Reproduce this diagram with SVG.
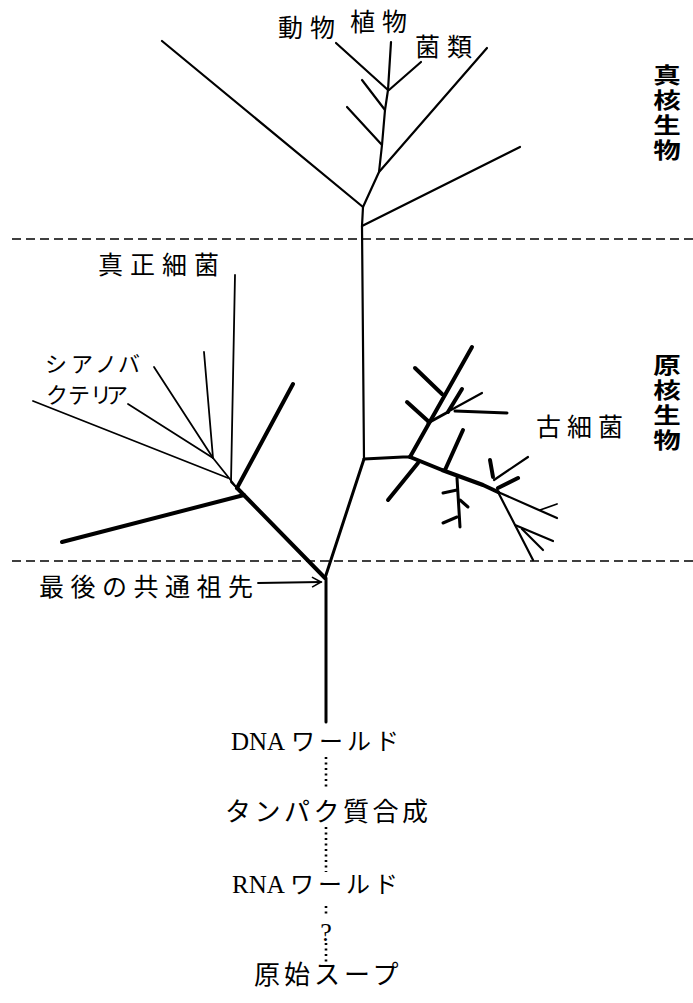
<svg xmlns="http://www.w3.org/2000/svg" width="693" height="1003" viewBox="0 0 693 1003">
  <style>
    .bg { fill: #ffffff; }
    .ln { fill: none; stroke: #000; stroke-linecap: round; stroke-linejoin: round; }
    .t1 { stroke-width: 1.8; }
    .t2 { stroke-width: 2.2; }
    .t3 { stroke-width: 3; }
    .t4 { stroke-width: 4; }
    .dash { fill: none; stroke: #000; stroke-width: 1.6; stroke-dasharray: 9 5; }
    .dots { fill: none; stroke: #000; stroke-width: 2.6; stroke-dasharray: 2 3.5; }
    .jp { font-family: "Noto Sans CJK JP", "Noto Sans CJK SC", sans-serif; fill: #000; }
    .lbl { font-size: 25px; letter-spacing: 7px; }
    .kana { font-size: 22px; }
    .stage { font-size: 26px; letter-spacing: 3.5px; }
    .side { font-size: 22px; font-weight: bold; writing-mode: vertical-rl; letter-spacing: 3px; }
    .rom { font-family: "Liberation Serif", serif; font-size: 25px; fill: #000; }
  </style>
  <defs>
    <marker id="open-arrow" markerWidth="12" markerHeight="12" refX="10" refY="6" orient="auto" markerUnits="userSpaceOnUse">
      <polyline points="1,1 10,6 1,11" fill="none" stroke="#000" stroke-width="1.6"/>
    </marker>
  </defs>

  <rect class="bg" x="0" y="0" width="693" height="1003"/>

  <!-- domain boundaries -->
  <g id="boundaries">
    <path class="dash" d="M12,239 L693,239"/>
    <path class="dash" d="M12,561 L693,561"/>
  </g>

  <g id="connectors">
    <!-- eukaryote crown -->
    <path class="ln t2" d="M364,459 L362,226 L363,207 L379,172 L382,145 L385,110 L388,90 L391,42"/>
    <path class="ln t2" d="M362,226 L520,147"/>
    <path class="ln t2" d="M363,207 L162,41"/>
    <path class="ln t2" d="M379,172 L487,48"/>
    <path class="ln t2" d="M382,145 L347,107"/>
    <path class="ln t2" d="M385,110 L362,80"/>
    <path class="ln t2" d="M388,90 L336,43"/>
    <path class="ln t2" d="M389,90 L421,62"/>

    <!-- stem from the common ancestor -->
    <path class="ln t3" d="M326,578 L326,722"/>
    <path class="ln t3" d="M325,578 L363,462 L364,459"/>
    <path class="ln t4" d="M325,578 L237,488"/>

    <!-- bacteria -->
    <path class="ln t4" d="M237,488 L293,384"/>
    <path class="ln t4" d="M244,495 L62,542"/>
    <path class="ln t1" d="M235,275 L231,482 L237,488"/>
    <path class="ln t1" d="M204,352 L213,458"/>
    <path class="ln t1" d="M154,367 L213,458"/>
    <path class="ln t1" d="M128,404 L213,458"/>
    <path class="ln t1" d="M33,401 L228,478"/>
    <path class="ln t1" d="M213,458 L237,488"/>

    <!-- archaea -->
    <path class="ln t3" d="M364,459 L403,457 L410,457"/>
    <path class="ln t4" d="M410,457 L472,347"/>
    <path class="ln t4" d="M428,421 L407,402"/>
    <path class="ln t4" d="M442,394 L415,368"/>
    <path class="ln t3" d="M428,423 L448,412"/>
    <path class="ln t4" d="M448,412 L462,389"/>
    <path class="ln t2" d="M451,410 L482,393"/>
    <path class="ln t3" d="M455,411 L507,413"/>
    <path class="ln t4" d="M410,457 L442,470 L483,485 L498,492"/>
    <path class="ln t2" d="M498,492 L557,518"/>
    <path class="ln t4" d="M418,463 L388,500"/>
    <path class="ln t4" d="M445,470 L463,430"/>
    <path class="ln t3" d="M457,478 L460,527"/>
    <path class="ln t3" d="M443,493 L457,490"/>
    <path class="ln t3" d="M460,500 L468,507"/>
    <path class="ln t3" d="M443,523 L457,517"/>
    <path class="ln t4" d="M490,460 L493,477"/>
    <path class="ln t2" d="M494,480 L528,457"/>
    <path class="ln t4" d="M498,488 L518,478"/>
    <path class="ln t1" d="M540,510 L557,504"/>
    <path class="ln t2" d="M498,492 L533,560"/>
    <path class="ln t2" d="M515,525 L553,541"/>
    <path class="ln t2" d="M522,529 L543,550"/>

    <!-- pointer to the common ancestor -->
    <path class="ln t1" d="M258,583 L321,582" marker-end="url(#open-arrow)"/>

    <!-- earlier stages -->
    <path class="dots" d="M326,757 L326,790"/>
    <path class="dots" d="M326,827 L326,872"/>
    <path class="dots" d="M326,906 L326,917"/>
    <path class="dots" d="M326,943 L326,963"/>
  </g>

  <g id="animals"><text class="jp lbl" x="278" y="37">動物</text></g>
  <g id="plants"><text class="jp lbl" x="350" y="31">植物</text></g>
  <g id="fungi"><text class="jp lbl" x="415" y="56">菌類</text></g>

  <!-- vertical domain labels, widened slightly -->
  <g id="eukaryota-label" transform="translate(667 0) scale(1.25 1)">
    <text class="jp side" x="0" y="64">真核生物</text>
  </g>

  <g id="prokaryota-label" transform="translate(667 0) scale(1.25 1)">
    <text class="jp side" x="0" y="354">原核生物</text>
  </g>

  <g id="bacteria"><text class="jp lbl" x="98" y="274">真正細菌</text></g>

  <g id="cyanobacteria">
    <text class="jp kana" x="45 71 95 118" y="372">シアノバ</text>
    <text class="jp kana" x="46 68 90 106" y="403">クテリア</text>
  </g>

  <g id="archaea"><text class="jp lbl" x="536" y="436" style="letter-spacing:6px">古細菌</text></g>

  <g id="common-ancestor"><text class="jp lbl" x="39" y="596" style="letter-spacing:6.5px">最後の共通祖先</text></g>

  <g id="dna-world">
    <text y="750"><tspan class="rom" x="231">DNA</tspan><tspan class="jp" x="291" style="font-size:24px;letter-spacing:4px">ワールド</tspan></text>
  </g>
  <g id="protein-synthesis"><text class="jp stage" x="225" y="821">タンパク質合成</text></g>
  <g id="rna-world">
    <text y="893"><tspan class="rom" x="232">RNA</tspan><tspan class="jp" x="290" style="font-size:24px;letter-spacing:4px">ワールド</tspan></text>
  </g>
  <g id="unknown-step"><text class="rom" x="326" y="941" text-anchor="middle" style="font-size:26px">?</text></g>
  <g id="primordial-soup"><text class="jp stage" x="254" y="984" style="letter-spacing:4px">原始スープ</text></g>
</svg>
